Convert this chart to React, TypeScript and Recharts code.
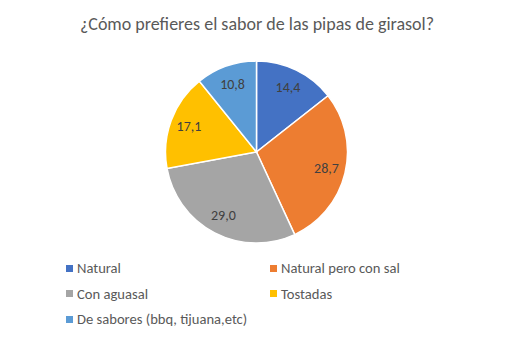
import { Cell, Legend, Pie, PieChart } from "recharts";

const categories = [
    "Natural",
    "Natural pero con sal",
    "Con aguasal",
    "Tostadas",
    "De sabores (bbq, tijuana,etc)",
];
const values = [14.4, 28.7, 29.0, 17.1, 10.8];
const colors = ["#4472C4", "#ED7D31", "#A5A5A5", "#FFC000", "#5B9BD5"];

const data = categories.map((name, i) => ({ name, value: values[i] }));

const FONT = "Carlito, Calibri, 'Open Sans', sans-serif";
const RAD = Math.PI / 180;

function renderLabel(props: any) {
    const { cx, cy, midAngle, value } = props;
    const r = 72;
    const x = cx + r * Math.cos(-midAngle * RAD);
    const y = cy + r * Math.sin(-midAngle * RAD);
    return (
        <text
            x={x}
            y={y}
            fill="#404040"
            fontSize={14}
            fontFamily={FONT}
            textAnchor="middle"
            dominantBaseline="central"
        >
            {value.toFixed(1).replace(".", ",")}
        </text>
    );
}

function LegendBox() {
    return (
        <div
            style={{
                display: "grid",
                gridTemplateColumns: "204px 200px",
                rowGap: 7,
                fontFamily: FONT,
                fontSize: 14.6,
                color: "#595959",
            }}
        >
            {categories.map((c, i) => (
                <div key={c} style={{ display: "flex", alignItems: "center", height: 18.5 }}>
                    <span
                        style={{
                            width: 7,
                            height: 7,
                            background: colors[i],
                            marginRight: 4,
                            display: "inline-block",
                        }}
                    />
                    {c}
                </div>
            ))}
        </div>
    );
}

export default function App() {
    return (
        <div style={{ position: "absolute", left: 0, top: 0, width: 514, height: 352, background: "#fff" }}>
            <div
                style={{
                    position: "absolute",
                    top: 13,
                    width: 514,
                    textAlign: "center",
                    fontFamily: FONT,
                    fontSize: 18,
                    color: "#595959",
                }}
            >
                ¿Cómo prefieres el sabor de las pipas de girasol?
            </div>
            <PieChart width={514} height={352} margin={{ top: 0, right: 0, bottom: 0, left: 0 }}>
                <Pie
                    data={data}
                    dataKey="value"
                    nameKey="name"
                    cx={256.5}
                    cy={152}
                    outerRadius={91}
                    startAngle={90}
                    endAngle={-270}
                    stroke="#fff"
                    strokeWidth={1.5}
                    label={renderLabel}
                    labelLine={false}
                    isAnimationActive={false}
                >
                    {data.map((d, i) => (
                        <Cell key={d.name} fill={colors[i]} />
                    ))}
                </Pie>
                <Legend
                    content={() => <LegendBox />}
                    wrapperStyle={{ position: "absolute", left: 66, top: 259, width: 420 }}
                />
            </PieChart>
        </div>
    );
}
